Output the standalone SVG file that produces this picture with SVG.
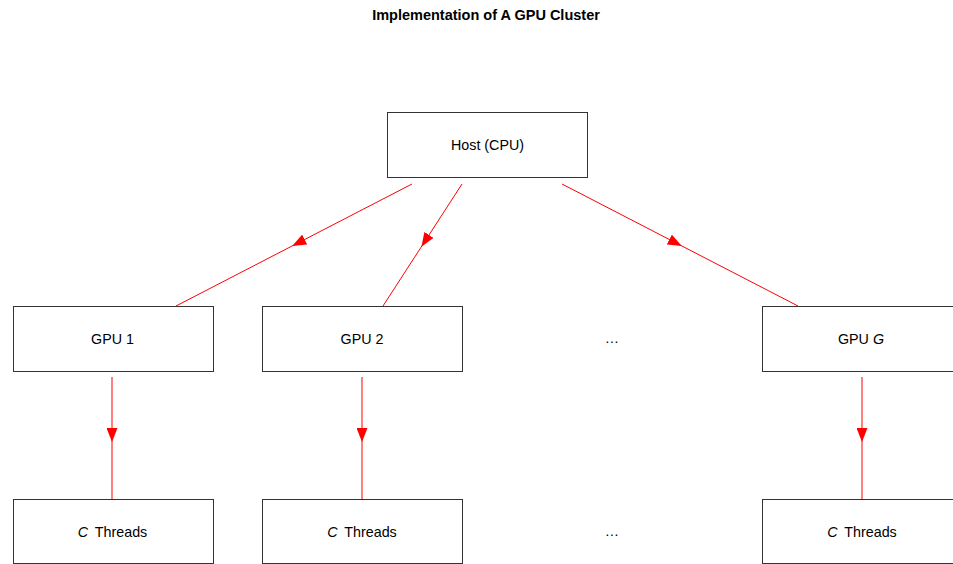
<svg xmlns="http://www.w3.org/2000/svg" width="953" height="564" viewBox="0 0 953 564">
  <style>
    .box { fill: #ffffff; stroke: #333333; stroke-width: 1; }
    .lbl { font-family: "Liberation Sans", Arial, sans-serif; font-size: 14.3px; fill: #000000; text-anchor: middle; }
    .title { font-family: "Liberation Sans", Arial, sans-serif; font-size: 14.5px; font-weight: bold; fill: #000000; text-anchor: middle; }
    .edge { fill: none; stroke: #ff0000; stroke-width: 1; marker-mid: url(#arrow); }
  </style>
  <defs>
    <marker id="arrow" viewBox="0 0 14 11" refX="12" refY="5.5" markerWidth="14" markerHeight="11" markerUnits="userSpaceOnUse" orient="auto">
      <path d="M0,0 L14,5.5 L0,11 Z" fill="#ff0000"/>
    </marker>
  </defs>
  <rect width="953" height="564" fill="#ffffff"/>

  <text class="title" x="486" y="20">Implementation of A GPU Cluster</text>

  <g id="connectors">
    <path class="edge" d="M412,184 L294,245 L176,306"/>
    <path class="edge" d="M462,184 L422.5,245 L383,306"/>
    <path class="edge" d="M562,184 L680,245 L798,306"/>
    <path class="edge" d="M112,377 L112,440 L112,499"/>
    <path class="edge" d="M362,377 L362,440 L362,499"/>
    <path class="edge" d="M862,377 L862,440 L862,499"/>
  </g>

  <g id="host">
    <rect class="box" x="387.5" y="112.5" width="200" height="65"/>
    <text class="lbl" x="487.5" y="150">Host (CPU)</text>
  </g>

  <g id="gpu1">
    <rect class="box" x="13.5" y="306.5" width="200" height="65"/>
    <text class="lbl" x="112.5" y="344">GPU 1</text>
  </g>
  <g id="gpu2">
    <rect class="box" x="262.5" y="306.5" width="200" height="65"/>
    <text class="lbl" x="362" y="344">GPU 2</text>
  </g>
  <g id="gpu-ellipsis">
    <text class="lbl" x="612" y="343">…</text>
  </g>
  <g id="gpuG">
    <rect class="box" x="762.5" y="306.5" width="200" height="65"/>
    <text class="lbl" x="861" y="344">GPU <tspan font-style="italic">G</tspan></text>
  </g>

  <g id="threads1">
    <rect class="box" x="13.5" y="499.5" width="200" height="64"/>
    <text class="lbl" x="112.5" y="537"><tspan font-style="italic">C</tspan><tspan dx="3"> Threads</tspan></text>
  </g>
  <g id="threads2">
    <rect class="box" x="262.5" y="499.5" width="200" height="64"/>
    <text class="lbl" x="362" y="537"><tspan font-style="italic">C</tspan><tspan dx="3"> Threads</tspan></text>
  </g>
  <g id="threads-ellipsis">
    <text class="lbl" x="612" y="536">…</text>
  </g>
  <g id="threadsG">
    <rect class="box" x="762.5" y="499.5" width="200" height="64"/>
    <text class="lbl" x="862" y="537"><tspan font-style="italic">C</tspan><tspan dx="3"> Threads</tspan></text>
  </g>
</svg>
